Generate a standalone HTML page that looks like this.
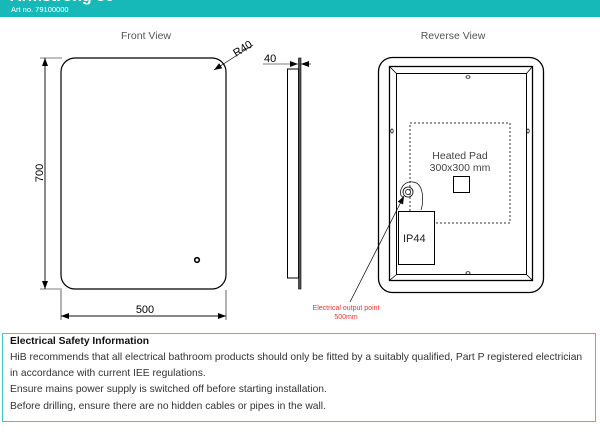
<!DOCTYPE html>
<html><head><style>
body{margin:0;width:600px;height:441px;background:#fff;position:relative;overflow:hidden;font-family:"Liberation Sans",sans-serif}
.hdr{position:absolute;left:0;top:0;width:600px;height:17px;background:#17b8b8;overflow:hidden}
.box{position:absolute;left:2px;top:333px;width:592px;height:87px;border:1.5px solid #3cc8c8}
.box div{position:absolute;left:7px;font-size:10.3px;color:#333;white-space:nowrap}
</style></head><body>
<div class="hdr"><div style="position:absolute;left:10px;top:-12px;color:#fff;font-weight:bold;font-size:16px">Armstrong 50</div><div style="position:absolute;left:11px;top:5px;color:#fff;font-size:7.5px">Art no. 79100000</div></div>
<svg width="600" height="333" style="position:absolute;left:0;top:0" font-family="Liberation Sans,sans-serif">
<defs><marker id="a" markerWidth="8" markerHeight="6" refX="8" refY="3" orient="auto" markerUnits="userSpaceOnUse"><path d="M0,0L8,3L0,6z" fill="#000"/></marker></defs>
<text x="146" y="39" font-size="10.5" fill="#555" text-anchor="middle">Front View</text>
<text x="453" y="39" font-size="10.5" fill="#555" text-anchor="middle">Reverse View</text>
<rect x="61" y="58" width="165" height="231" rx="14" fill="none" stroke="#000" stroke-width="1.2"/>
<circle cx="197" cy="260" r="2.3" fill="none" stroke="#000" stroke-width="1.6"/>
<line x1="40" y1="58" x2="62" y2="58" stroke="#000" stroke-width=".6"/>
<line x1="40" y1="289" x2="62" y2="289" stroke="#000" stroke-width=".6"/>
<line x1="45" y1="289" x2="45" y2="58" stroke="#000" stroke-width=".7" marker-end="url(#a)"/>
<line x1="45" y1="58" x2="45" y2="289" stroke="#000" stroke-width=".7" marker-end="url(#a)"/>
<text x="0" y="0" font-size="11" transform="translate(43,173) rotate(-90)" text-anchor="middle">700</text>
<line x1="61" y1="290" x2="61" y2="320" stroke="#000" stroke-width=".6"/>
<line x1="226" y1="290" x2="226" y2="320" stroke="#000" stroke-width=".6"/>
<line x1="61" y1="316" x2="226" y2="316" stroke="#000" stroke-width=".7" marker-end="url(#a)"/>
<line x1="226" y1="316" x2="61" y2="316" stroke="#000" stroke-width=".7" marker-end="url(#a)"/>
<text x="145" y="313" font-size="11" text-anchor="middle">500</text>
<line x1="253" y1="45" x2="214" y2="70" stroke="#000" stroke-width=".7" marker-end="url(#a)"/>
<text x="0" y="0" font-size="11" transform="translate(236,57) rotate(-32)">R40</text>
<rect x="287.5" y="69" width="11" height="209" fill="none" stroke="#000" stroke-width="1"/>
<rect x="298.5" y="58" width="2.5" height="231" fill="#555" stroke="#000" stroke-width=".6"/>
<text x="264" y="62" font-size="11">40</text>
<line x1="263" y1="64" x2="298" y2="64" stroke="#000" stroke-width=".6" marker-end="url(#a)"/>
<line x1="311" y1="64" x2="301" y2="64" stroke="#000" stroke-width=".6" marker-end="url(#a)"/>
<rect x="378.5" y="57.5" width="165" height="235" rx="14" fill="none" stroke="#000" stroke-width="1.3"/>
<rect x="389.5" y="66.5" width="143" height="214" fill="none" stroke="#000" stroke-width="1.3"/>
<rect x="396.5" y="73.5" width="130" height="201" fill="none" stroke="#000" stroke-width="1"/>
<path d="M389.5 66.5L396.5 73.5M532.5 66.5L526.5 73.5M389.5 280.5L396.5 274.5M532.5 280.5L526.5 274.5" stroke="#000" stroke-width=".8"/>
<rect x="410" y="123" width="100" height="100" fill="none" stroke="#333" stroke-width="1" stroke-dasharray="2,2"/>
<text x="460" y="159" font-size="10.5" fill="#444" text-anchor="middle">Heated Pad</text>
<text x="460" y="171" font-size="10.5" fill="#444" text-anchor="middle">300x300 mm</text>
<rect x="453.5" y="176.5" width="16" height="16" fill="none" stroke="#000" stroke-width="1"/>
<ellipse cx="468" cy="77" rx="2" ry="1.3" fill="none" stroke="#000" stroke-width=".7"/>
<ellipse cx="468" cy="273" rx="2" ry="1.3" fill="none" stroke="#000" stroke-width=".7"/>
<ellipse cx="392" cy="131" rx="1.2" ry="2" fill="none" stroke="#000" stroke-width=".7"/>
<ellipse cx="528" cy="131" rx="1.2" ry="2" fill="none" stroke="#000" stroke-width=".7"/>
<path d="M421 210 C424 202 424 183 413 182 C402 180 397 195 403 197" fill="none" stroke="#000" stroke-width=".7"/>
<circle cx="408" cy="192" r="5" fill="none" stroke="#000" stroke-width=".8"/>
<circle cx="408" cy="192" r="2.5" fill="none" stroke="#000" stroke-width=".7"/>
<rect x="398.5" y="211.5" width="36" height="53" fill="#fff" stroke="#000" stroke-width="1"/>
<text x="403" y="242" font-size="11" fill="#222">IP44</text>
<line x1="350" y1="302" x2="404" y2="196" stroke="#000" stroke-width=".7" marker-end="url(#a)"/>
<text x="346" y="310" font-size="7" fill="#e33" text-anchor="middle">Electrical output point</text>
<text x="346" y="319" font-size="7" fill="#e33" text-anchor="middle">500mm</text>
</svg>
<div class="box">
<div style="top:2px;font-weight:bold;color:#111">Electrical Safety Information</div>
<div style="top:18px">HiB recommends that all electrical bathroom products should only be fitted by a suitably qualified, Part P registered electrician</div>
<div style="top:34px">in accordance with current IEE regulations.</div>
<div style="top:50px">Ensure mains power supply is switched off before starting installation.</div>
<div style="top:67px">Before drilling, ensure there are no hidden cables or pipes in the wall.</div>
</div>
</body></html>
